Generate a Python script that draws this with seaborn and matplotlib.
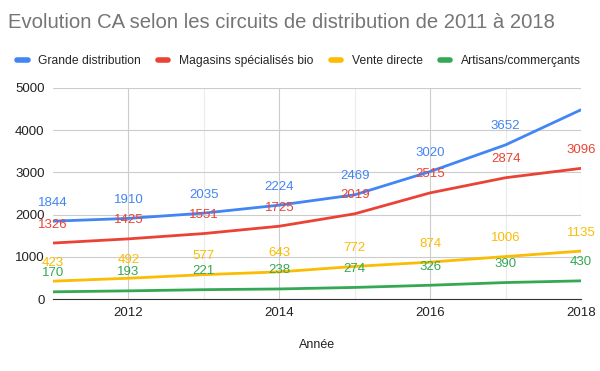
import matplotlib
matplotlib.use('Agg')
import matplotlib.pyplot as plt
import pandas as pd
import seaborn as sns

years = [2011, 2012, 2013, 2014, 2015, 2016, 2017, 2018]
series = ['Grande distribution', 'Magasins spécialisés bio', 'Vente directe', 'Artisans/commerçants']
grande = [1844, 1910, 2035, 2224, 2469, 3020, 3652, 4484]
magasins = [1326, 1425, 1551, 1725, 2019, 2515, 2874, 3096]
vente = [423, 492, 577, 643, 772, 874, 1006, 1135]
artisans = [170, 193, 221, 238, 274, 326, 390, 430]
colors = ['#4285F4', '#EA4335', '#FBBC04', '#34A853']

df = pd.DataFrame({'Année': years * 4,
                   'CA': grande + magasins + vente + artisans,
                   'Circuit': [s for s in series for _ in years]})

sns.set_style('white')
plt.rcParams['font.family'] = ['Liberation Sans', 'DejaVu Sans']

fig = plt.figure(figsize=(6, 3.71), dpi=100)
ax = fig.add_axes([53 / 600, 1 - 299 / 371, 528 / 600, 211 / 371])
sns.lineplot(data=df, x='Année', y='CA', hue='Circuit', palette=colors,
             linewidth=2, ax=ax, legend=False)

ax.set_xlim(2011, 2018)
ax.set_ylim(0, 5000)
ax.set_xticks([2012, 2014, 2016, 2018])
ax.set_xticks([2013, 2015, 2017], minor=True)
ax.set_yticks(range(0, 5001, 1000))
ax.grid(True, which='major', color='#cccccc', linewidth=0.8)
ax.grid(True, which='minor', axis='x', color='#ebebeb', linewidth=0.8)
ax.set_axisbelow(True)
for s in ['left', 'right', 'top']:
    ax.spines[s].set_visible(False)
ax.spines['bottom'].set_color('#333333')
ax.tick_params(length=0, labelsize=9.5, colors='#222222', pad=6)
ax.set_xlabel('Année', fontsize=9, color='#222222', labelpad=14)
ax.set_ylabel('')

# data labels above each point (last blue one is hidden in the reference)
for vals, c in zip([grande, magasins, vente, artisans], colors):
    for x, v in zip(years, vals):
        if v == 4484:
            continue
        ax.annotate(str(v), (x, v), xytext=(0, 9), textcoords='offset points',
                    ha='center', va='bottom', fontsize=9.5, color=c,
                    annotation_clip=False)

fig.text(8 / 600, 1 - 22 / 371, 'Evolution CA selon les circuits de distribution de 2011 à 2018',
         fontsize=14.6, color='#757575', va='center', ha='left')

handles = [plt.Line2D([0], [0], color=c, linewidth=4) for c in colors]
fig.legend(handles, series, loc='center', bbox_to_anchor=(299 / 600, 1 - 61 / 371),
           ncol=4, frameon=False, fontsize=8.7, handlelength=0.85, handletextpad=0.9,
           columnspacing=1.4)

fig.savefig('out.png', dpi=100)
